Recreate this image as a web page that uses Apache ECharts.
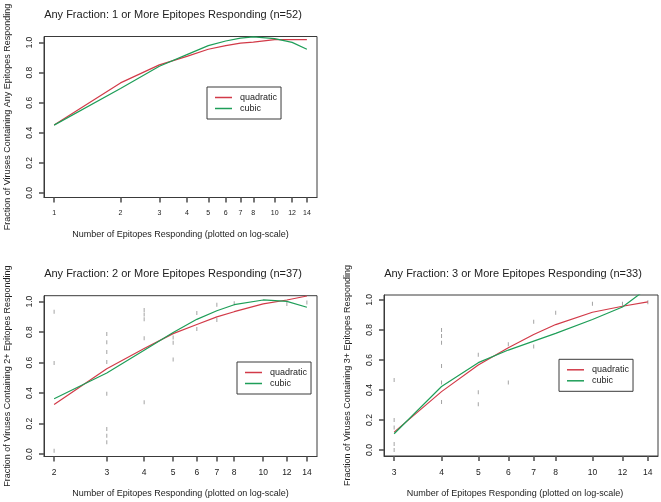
<!DOCTYPE html>
<html>
<head>
<meta charset="utf-8">
<script src="https://cdn.jsdelivr.net/npm/echarts@6/dist/echarts.min.js"></script>
<style>
html,body{margin:0;padding:0;background:#fff;}
#chart{width:661px;height:502px;}
</style>
</head>
<body>
<div id="chart"></div>
<script>
// ---------- data ----------
const titles = [
  'Any Fraction: 1 or More Epitopes Responding (n=52)',
  'Any Fraction: 2 or More Epitopes Responding (n=37)',
  'Any Fraction: 3 or More Epitopes Responding (n=33)'
];
const yNames = [
  'Fraction of Viruses Containing Any Epitopes Responding',
  'Fraction of Viruses Containing 2+ Epitopes Responding',
  'Fraction of Viruses Containing 3+ Epitopes Responding'
];
const xName = 'Number of Epitopes Responding (plotted on log-scale)';
const seriesNames = ['quadratic', 'cubic'];

const xTicks1 = [1, 2, 3, 4, 5, 6, 7, 8, 10, 12, 14];
const xTicks2 = [2, 3, 4, 5, 6, 7, 8, 10, 12, 14];
const xTicks3 = [3, 4, 5, 6, 7, 8, 10, 12, 14];
const yTicks = [0, 0.2, 0.4, 0.6, 0.8, 1.0];

// panel 1 fits
const fitX1 = [1, 2, 3, 4, 5, 6, 7, 8, 10, 12, 14];
const quad1 = [0.451, 0.732, 0.852, 0.909, 0.956, 0.980, 0.997, 1.004, 1.020, 1.020, 1.020];
const cubic1 = [0.451, 0.695, 0.843, 0.920, 0.980, 1.011, 1.030, 1.038, 1.027, 1.002, 0.956];

// panel 2 fits
const fitX2 = [2, 3, 4, 5, 6, 7, 8, 10, 12, 14];
const quad2 = [0.325, 0.560, 0.692, 0.790, 0.850, 0.900, 0.934, 0.985, 1.011, 1.037];
const cubic2 = [0.363, 0.532, 0.681, 0.798, 0.884, 0.940, 0.980, 1.011, 1.002, 0.963];

// panel 3 fits
const fitX3 = [3, 4, 5, 6, 7, 8, 10, 12, 14];
const quad3 = [0.119, 0.389, 0.566, 0.681, 0.770, 0.836, 0.918, 0.958, 0.987];
const cubic3 = [0.108, 0.423, 0.582, 0.666, 0.726, 0.777, 0.870, 0.953, 1.080];

// observed fractions (drawn as "|")
const obsX2 = [2, 2, 2, 3, 3, 3, 3, 3, 3, 3, 3, 4, 4, 4, 4, 4, 5, 5, 5, 6, 6, 7, 7, 8, 12, 14];
const obsY2 = [0.934, 0.598, 0.022, 0.787, 0.734, 0.670, 0.604, 0.396, 0.165, 0.120, 0.077,
               0.945, 0.915, 0.885, 0.760, 0.340, 0.765, 0.730, 0.620, 0.925, 0.820, 0.980, 0.880, 0.990, 0.985, 0.995];
const obsX3 = [3, 3, 3, 3, 3, 4, 4, 4, 4, 4, 4, 5, 5, 5, 6, 6, 7, 7, 8, 10, 12, 14];
const obsY3 = [0.467, 0.200, 0.150, 0.040, 0.000, 0.800, 0.760, 0.715, 0.560, 0.450, 0.320,
               0.635, 0.385, 0.305, 0.705, 0.450, 0.855, 0.690, 0.915, 0.975, 0.975, 0.985];

// ---------- styling ----------
const FONT = '"Liberation Sans", Arial, Helvetica, sans-serif';
const RED = '#d23a48';
const GREEN = '#1e9e58';
const MARK = '#8c8c8c';
const TXT = '#222';
const BOX = '#3a3a3a';
const TICK = '#555';

const L = v => Math.log10(v);
function xExt(a, b) {
  const r = L(b) - L(a);
  return [L(a) - 0.04 * r, L(b) + 0.04 * r];
}
const pairs = (xs, ys) => xs.map((x, i) => [L(x), ys[i]]);

const grids = [
  { left: 44, top: 36.5, width: 273, height: 161 },
  { left: 44, top: 295.7, width: 273, height: 160.8 },
  { left: 384, top: 295, width: 274, height: 161 }
];
const yRanges = [[-0.031, 1.041], [-0.016, 1.039], [-0.04, 1.033]];
const xTickSets = [xTicks1, xTicks2, xTicks3];
const xLabelSize = [7, 8.5, 8.5];
const xNamePad = [[0, 0, 0, 0], [0, 0, 0, 0], [0, 12, 0, 0]];

const option = {
  animation: false,
  backgroundColor: '#fff',
  textStyle: { fontFamily: FONT },
  grid: grids.map(g => Object.assign({ show: true, borderColor: BOX, borderWidth: 1, backgroundColor: 'transparent' }, g)),
  xAxis: xTickSets.map((ticks, i) => {
    const ext = xExt(ticks[0], ticks[ticks.length - 1]);
    return {
      type: 'value', gridIndex: i, min: ext[0], max: ext[1],
      axisLine: { show: true, onZero: false, lineStyle: { color: BOX, width: 1 } },
      splitLine: { show: false },
      axisTick: { show: true, length: 5, lineStyle: { color: TICK, width: 1.6 }, customValues: ticks.map(L) },
      axisLabel: {
        show: true, margin: 12, fontSize: xLabelSize[i], color: TXT, fontFamily: FONT,
        customValues: ticks.map(L),
        formatter: v => String(Math.round(Math.pow(10, v)))
      },
      name: xName, nameLocation: 'middle', nameGap: 33,
      nameTextStyle: { fontSize: 9, color: TXT, fontFamily: FONT, padding: xNamePad[i] }
    };
  }),
  yAxis: yRanges.map((r, i) => ({
    type: 'value', gridIndex: i, min: r[0], max: r[1],
    axisLine: { show: true, onZero: false, lineStyle: { color: BOX, width: 1 } },
    splitLine: { show: false },
    axisTick: { show: true, length: 5, lineStyle: { color: TICK, width: 1.6 }, customValues: yTicks },
    axisLabel: {
      show: true, rotate: 90, margin: 10, fontSize: 8.5, color: TXT, fontFamily: FONT,
      customValues: yTicks,
      formatter: v => v.toFixed(1)
    },
    name: yNames[i], nameLocation: 'middle', nameGap: 32,
    nameTextStyle: { fontSize: 9, color: TXT, fontFamily: FONT }
  })),
  legend: [
    { left: 207, top: 87 },
    { left: 237, top: 362 },
    { left: 559, top: 359.3 }
  ].map(p => Object.assign({
    data: seriesNames, orient: 'vertical', icon: 'rect', itemWidth: 17, itemHeight: 1.5,
    itemGap: 0, padding: [5, 4, 5, 8], borderColor: BOX, borderWidth: 1, selectedMode: false,
    textStyle: { fontSize: 9, color: TXT, fontFamily: FONT, lineHeight: 11, padding: [0, 0, 0, 3] }
  }, p)),
  graphic: [
    { x: 173, y: 15 }, { x: 173, y: 274 }, { x: 513, y: 274 }
  ].map((p, i) => ({
    type: 'text', x: p.x, y: p.y, silent: true,
    style: { text: titles[i], fontSize: 11, fill: TXT, font: '11px ' + FONT, align: 'center', verticalAlign: 'middle' }
  })),
  series: []
};

const obsSets = [null, [obsX2, obsY2], [obsX3, obsY3]];
const fits = [[fitX1, quad1, cubic1], [fitX2, quad2, cubic2], [fitX3, quad3, cubic3]];
fits.forEach((f, i) => {
  if (obsSets[i]) {
    option.series.push({
      type: 'scatter', name: 'observed', xAxisIndex: i, yAxisIndex: i,
      symbol: 'rect', symbolSize: [1, 4], itemStyle: { color: MARK }, z: 1,
      data: pairs(obsSets[i][0], obsSets[i][1]), silent: true
    });
  }
  option.series.push({
    type: 'line', name: seriesNames[0], xAxisIndex: i, yAxisIndex: i, clip: true,
    showSymbol: false, symbol: 'none', color: RED, lineStyle: { color: RED, width: 1.2 }, z: 3,
    data: pairs(f[0], f[1])
  });
  option.series.push({
    type: 'line', name: seriesNames[1], xAxisIndex: i, yAxisIndex: i, clip: true,
    showSymbol: false, symbol: 'none', color: GREEN, lineStyle: { color: GREEN, width: 1.2 }, z: 3,
    data: pairs(f[0], f[2])
  });
});

const chart = echarts.init(document.getElementById('chart'), null, { renderer: 'canvas' });
chart.setOption(option);
</script>
</body>
</html>
